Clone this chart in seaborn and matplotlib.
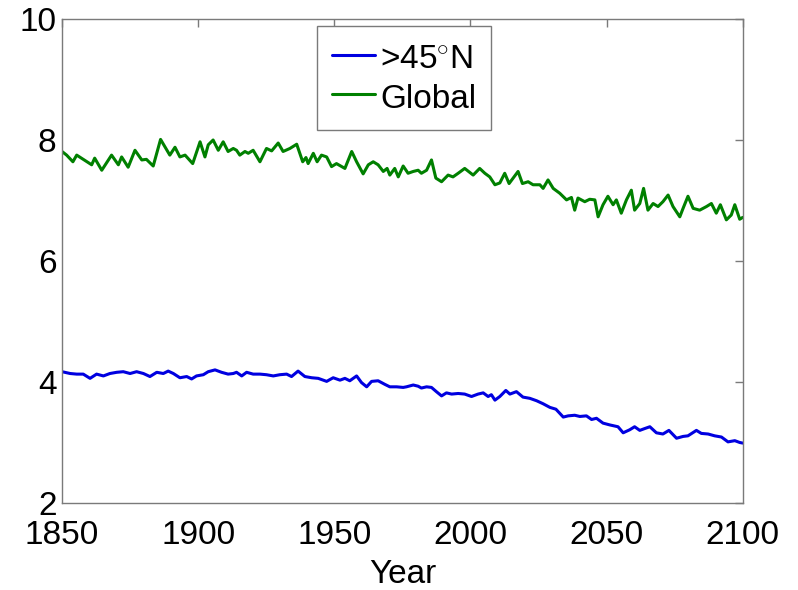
import matplotlib
matplotlib.use("Agg")
import matplotlib.pyplot as plt
import seaborn as sns
import pandas as pd

# ---- data ----
global_years = [1850, 1851.7, 1854, 1855.4, 1857.8, 1860.9, 1862, 1864.6, 1868.2, 1870.7,
                1871.9, 1874.3, 1876.8, 1879.3, 1881, 1883.5, 1886.2, 1889.6, 1891.5, 1893.3,
                1895.2, 1898, 1900.7, 1902.5, 1903.7, 1905.5, 1907.4, 1909.2, 1911, 1912.9,
                1914.1, 1915.3, 1917.2, 1918.4, 1920.2, 1922.7, 1925.1, 1927, 1929.4, 1931.2,
                1933.7, 1936.2, 1938.4, 1939.6, 1940.4, 1942.3, 1943.7, 1945.3, 1947.2, 1949,
                1950.8, 1953.9, 1956.4, 1958.2, 1960.6, 1962.5, 1964.3, 1966.1, 1968, 1969.4,
                1970.4, 1972.2, 1973.5, 1975.3, 1977.1, 1979, 1980.8, 1982, 1983.9, 1985.7,
                1987.3, 1989.4, 1991.8, 1993.6, 1995.5, 1997.9, 2001, 2003.4, 2005.3, 2007.1,
                2009, 2010.8, 2012.6, 2014.2, 2017.5, 2019.1, 2021.2, 2023, 2025.5, 2026.7,
                2028.5, 2030.4, 2032.8, 2035.3, 2037.1, 2038.3, 2039.5, 2042, 2043.8, 2045.7,
                2046.9, 2048.7, 2050.5, 2052.4, 2053.6, 2055.4, 2057.3, 2059.1, 2060.3, 2062.2,
                2063.6, 2065.2, 2067.1, 2068.9, 2070.7, 2072.6, 2074.4, 2076.9, 2078.1, 2079.9,
                2081.8, 2084.2, 2086.7, 2088.5, 2090.3, 2091.8, 2094, 2095.8, 2097.1, 2098.9, 2100]
global_vals = [7.81, 7.75, 7.64, 7.75, 7.68, 7.59, 7.70, 7.50, 7.75, 7.59,
               7.72, 7.55, 7.83, 7.67, 7.68, 7.57, 8.01, 7.75, 7.88, 7.72,
               7.75, 7.61, 7.97, 7.72, 7.92, 8.00, 7.83, 7.97, 7.81, 7.86,
               7.83, 7.75, 7.81, 7.78, 7.83, 7.64, 7.86, 7.82, 7.95, 7.81,
               7.86, 7.93, 7.64, 7.71, 7.61, 7.78, 7.64, 7.75, 7.72, 7.56,
               7.61, 7.53, 7.81, 7.64, 7.44, 7.59, 7.64, 7.59, 7.48, 7.53,
               7.42, 7.53, 7.39, 7.57, 7.45, 7.48, 7.50, 7.45, 7.50, 7.67,
               7.37, 7.31, 7.42, 7.39, 7.45, 7.53, 7.42, 7.53, 7.45, 7.39,
               7.26, 7.29, 7.45, 7.28, 7.48, 7.28, 7.31, 7.26, 7.26, 7.20,
               7.34, 7.20, 7.12, 7.01, 7.05, 6.84, 7.04, 6.98, 7.02, 7.01,
               6.73, 6.93, 7.07, 6.93, 7.01, 6.79, 7.01, 7.17, 6.84, 6.95,
               7.20, 6.84, 6.95, 6.90, 6.98, 7.09, 6.90, 6.73, 6.87, 7.07,
               6.87, 6.84, 6.90, 6.95, 6.79, 6.93, 6.68, 6.76, 6.93, 6.69, 6.72]

north_years = [1850, 1853, 1855.4, 1857.8, 1860.3, 1862.7, 1865.2, 1867.6, 1870.1, 1872.5,
               1875, 1877.4, 1879.9, 1882.3, 1884.8, 1887.2, 1889, 1890.9, 1893.3, 1895.8,
               1897.6, 1899.4, 1901.9, 1903.7, 1906.2, 1908.6, 1911, 1912.9, 1914.1, 1916,
               1917.8, 1920.2, 1922.7, 1925.1, 1927.6, 1930, 1932.5, 1934.3, 1936.7, 1939.2,
               1941.7, 1944.1, 1947.2, 1949.6, 1952.1, 1953.9, 1955.7, 1958.2, 1960, 1961.9,
               1963.7, 1966.1, 1968.6, 1970.4, 1972.9, 1975.3, 1976.5, 1979, 1980.8, 1982,
               1983.9, 1985.7, 1987.5, 1989.4, 1991.2, 1993.1, 1995.5, 1997.9, 2000.4, 2002.8,
               2004.7, 2006.5, 2007.7, 2009, 2010.8, 2013, 2014.5, 2016.9, 2019.3, 2021.8,
               2024.3, 2026.7, 2029.2, 2031.4, 2034.1, 2035.9, 2038.3, 2040.2, 2042.6, 2044.5,
               2046.3, 2048.7, 2051.2, 2054.2, 2056.1, 2058.5, 2060.3, 2062.2, 2064, 2065.9,
               2068.3, 2070.7, 2072.9, 2075.7, 2078.1, 2079.9, 2083, 2084.8, 2087.3, 2089.7,
               2092.2, 2094.6, 2097.1, 2098.9, 2100]
north_vals = [4.17, 4.14, 4.13, 4.13, 4.06, 4.13, 4.10, 4.14, 4.16, 4.17,
              4.14, 4.17, 4.14, 4.09, 4.16, 4.14, 4.18, 4.14, 4.07, 4.09,
              4.05, 4.10, 4.12, 4.17, 4.20, 4.16, 4.13, 4.14, 4.16, 4.10,
              4.16, 4.13, 4.13, 4.12, 4.10, 4.12, 4.13, 4.09, 4.18, 4.09,
              4.07, 4.06, 4.01, 4.07, 4.03, 4.06, 4.02, 4.10, 3.99, 3.92,
              4.01, 4.02, 3.96, 3.92, 3.92, 3.91, 3.92, 3.95, 3.93, 3.90,
              3.92, 3.91, 3.84, 3.77, 3.82, 3.80, 3.81, 3.80, 3.76, 3.80,
              3.82, 3.76, 3.79, 3.70, 3.76, 3.86, 3.80, 3.84, 3.75, 3.73,
              3.69, 3.64, 3.58, 3.55, 3.42, 3.44, 3.45, 3.43, 3.44, 3.38,
              3.40, 3.32, 3.29, 3.26, 3.16, 3.21, 3.26, 3.20, 3.23, 3.26,
              3.16, 3.14, 3.20, 3.07, 3.10, 3.11, 3.20, 3.15, 3.14, 3.11,
              3.09, 3.01, 3.03, 3.00, 2.99]

series_names = [">45$^{\\circ}$N", "Global"]
series_colors = ["#0000e0", "#008000"]
x_ticks = [1850, 1900, 1950, 2000, 2050, 2100]
y_ticks = [2, 4, 6, 8, 10]

df = pd.concat([
    pd.DataFrame({"Year": north_years, "value": north_vals, "series": series_names[0]}),
    pd.DataFrame({"Year": global_years, "value": global_vals, "series": series_names[1]}),
], ignore_index=True)

sns.set_style("white")
plt.rcParams["font.family"] = ["Liberation Sans", "DejaVu Sans"]
plt.rcParams["mathtext.fontset"] = "custom"
plt.rcParams["mathtext.rm"] = "Liberation Sans"
plt.rcParams["text.color"] = "black"
plt.rcParams["axes.labelcolor"] = "black"

fig = plt.figure(figsize=(7.98, 5.90), dpi=100)
ax = fig.add_axes([0.0777, 0.1475, 0.853, 0.8203])

sns.lineplot(data=df, x="Year", y="value", hue="series", palette=series_colors,
             hue_order=series_names, estimator=None, sort=False, linewidth=2.2, ax=ax)

ax.set_xlim(1850, 2100)
ax.set_ylim(2, 10)
ax.set_xticks(x_ticks)
ax.set_yticks(y_ticks)
ax.set_xlabel("Year", fontsize=24, labelpad=6, color="black")
ax.set_ylabel("")

for s in ax.spines.values():
    s.set_visible(True)
    s.set_color("#7a7a7a")
    s.set_linewidth(1.0)

ax.tick_params(axis="both", direction="in", length=6, width=1.0, color="#7a7a7a",
               labelsize=24, top=True, right=True, labelcolor="black")
ax.tick_params(axis="x", pad=12)
ax.tick_params(axis="y", pad=4)

handles, labels = ax.get_legend_handles_labels()
leg = ax.legend(handles, labels, loc="upper left", bbox_to_anchor=(0.374, 0.986),
                fontsize=24, frameon=True, fancybox=False, framealpha=1,
                edgecolor="#7a7a7a", handlelength=1.3, handletextpad=0.15,
                handleheight=1.2, borderpad=0.45, labelspacing=0.12, borderaxespad=0)
leg.get_frame().set_linewidth(1.0)
for t in leg.get_texts():
    t.set_color("black")

fig.savefig("out.png", dpi=100)
